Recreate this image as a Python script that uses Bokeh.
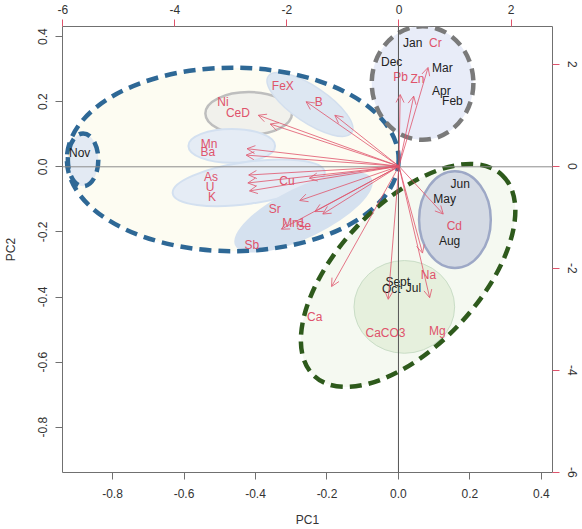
import numpy as np
from bokeh.plotting import figure
from bokeh.models import (Range1d, LinearAxis, FixedTicker, PrintfTickFormatter,
                          Span, Arrow, OpenHead, ColumnDataSource)
from bokeh.embed import file_html
from bokeh.resources import INLINE
from bokeh.core.properties import value

# ---- data: sample scores (bottom/left axes) ----
months = ["Jan", "Dec", "Mar", "Apr", "Feb", "Nov", "Jun", "May", "Aug", "Sept", "Oct", "Jul"]
month_pc1 = [0.040, -0.019, 0.123, 0.120, 0.151, -0.892, 0.173, 0.129, 0.143, -0.002, -0.020, 0.042]
month_pc2 = [0.380, 0.322, 0.303, 0.233, 0.202, 0.043, -0.052, -0.098, -0.227, -0.355, -0.374, -0.371]

# ---- data: variable loadings (top/right axes) ----
variables = ["Cr", "Pb", "Zn", "FeX", "B", "Ni", "CeD", "Mn", "Ba", "As", "U", "K",
             "Cu", "Sr", "Mn1", "Se", "Sb", "Cd", "Na", "Ca", "CaCO3", "Mg"]
var_pc1 = [0.649, 0.027, 0.329, -2.073, -1.432, -3.14, -2.874, -3.39, -3.41, -3.354, -3.372, -3.336,
           -2.00, -2.215, -1.877, -1.70, -2.625, 0.988, 0.525, -1.504, -0.240, 0.685]
var_pc2 = [2.422, 1.758, 1.719, 1.582, 1.250, 1.25, 1.035, 0.43, 0.273, -0.215, -0.41, -0.605,
           -0.293, -0.84, -1.113, -1.172, -1.543, -1.172, -2.129, -2.949, -3.262, -3.223]

score_ticks = [-0.8, -0.6, -0.4, -0.2, 0.0, 0.2, 0.4]
load_ticks = [-6, -4, -2, 0, 2]

RED = "#DF536B"
FONT = "Liberation Sans"

p = figure(width=582, height=529, output_backend="svg", toolbar_location=None,
           x_range=Range1d(-0.94, 0.431), y_range=Range1d(-0.939, 0.431),
           min_border_left=61, min_border_right=30, min_border_top=26, min_border_bottom=55,
           x_axis_label="PC1", y_axis_label="PC2")
p.extra_x_ranges = {"lx": Range1d(-6.005, 2.74)}
p.extra_y_ranges = {"ly": Range1d(-6.005, 2.74)}
p.grid.visible = False
p.outline_line_color = "#707070"
p.outline_line_width = 1
p.background_fill_color = "white"
p.border_fill_color = "white"

bottom = p.below[0]
left = p.left[0]
top = LinearAxis(x_range_name="lx")
right = LinearAxis(y_range_name="ly")
p.add_layout(top, "above")
p.add_layout(right, "right")

for ax in [bottom, left, top, right]:
    ax.axis_line_color = None
    ax.major_tick_in = 0
    ax.major_tick_out = 7
    ax.minor_tick_line_color = None
    ax.major_label_text_font = FONT
    ax.major_label_text_font_size = "12px"
    ax.major_label_text_color = "#333333"
    ax.axis_label_text_font = FONT
    ax.axis_label_text_font_size = "12px"
    ax.axis_label_text_font_style = "normal"
    ax.axis_label_text_color = "#333333"

for ax in [bottom, left]:
    ax.ticker = FixedTicker(ticks=score_ticks)
    ax.formatter = PrintfTickFormatter(format="%.1f")
    ax.major_tick_line_color = "#707070"
for ax in [top, right]:
    ax.ticker = FixedTicker(ticks=load_ticks)
    ax.formatter = PrintfTickFormatter(format="%d")
    ax.major_tick_line_color = RED

bottom.major_label_standoff = 9
bottom.axis_label_standoff = 12
left.major_label_orientation = "vertical"
left.major_label_standoff = 8
left.axis_label_standoff = 18
top.major_label_standoff = 6
right.major_label_orientation = "vertical"
right.major_label_standoff = 8

# ---- group ellipses (annotation shapes, in score coordinates) ----
fills = [
    dict(x=-0.4636, y=0.0227, w=0.9284, h=0.5636, a=0, fc="#FDFCF2", lc=None, lw=0),
    dict(x=0.027, y=-0.3338, w=0.7695, h=0.4349, a=46.9, fc="#F5F9F1", lc=None, lw=0),
    dict(x=0.0675, y=0.2573, w=0.2844, h=0.3492, a=0, fc="#E8ECF8", lc=None, lw=0),
    dict(x=-0.8824, y=0.0214, w=0.0853, h=0.1623, a=0, fc="#E3EAF3", lc=None, lw=0),
    dict(x=-0.419, y=0.1639, w=0.2425, h=0.1317, a=0, fc="#F1F1EC", lc="#BEBEBE", lw=2.5),
    dict(x=-0.2476, y=0.1914, w=0.2816, h=0.1103, a=-34, fc="#DDE7F2", lc="#D3DFEE", lw=1.5),
    dict(x=-0.4664, y=0.0643, w=0.2425, h=0.1041, a=0, fc="#E5ECF5", lc="#D3E0F0", lw=2),
    dict(x=-0.419, y=-0.049, w=0.4293, h=0.1286, a=8, fc="#E5ECF5", lc="#D3E0F0", lw=2),
    dict(x=-0.2657, y=-0.1394, w=0.4254, h=0.1556, a=26, fc="#D5E1EF", lc=None, lw=0),
    dict(x=0.158, y=-0.1623, w=0.2007, h=0.2971, a=0, fc="#D4DAE4", lc="#9DA8C6", lw=2.5),
    dict(x=0.0164, y=-0.4303, w=0.2816, h=0.2848, a=0, fc="#E6F0DD", lc="#C9DDC6", lw=1),
]
for e in fills:
    p.ellipse(x=e["x"], y=e["y"], width=e["w"], height=e["h"], angle=e["a"], angle_units="deg",
              fill_color=e["fc"], line_color=e["lc"], line_width=e["lw"])

outlines = [
    dict(x=-0.4636, y=0.0227, w=0.9284, h=0.5636, a=0, lc="#2E6896"),
    dict(x=-0.8824, y=0.0214, w=0.0853, h=0.1623, a=0, lc="#2E6896"),
    dict(x=0.0675, y=0.2573, w=0.2844, h=0.3492, a=0, lc="#7A7A7A"),
    dict(x=0.027, y=-0.3338, w=0.7695, h=0.4349, a=46.9, lc="#2E5A1C"),
]
for e in outlines:
    p.ellipse(x=e["x"], y=e["y"], width=e["w"], height=e["h"], angle=e["a"], angle_units="deg",
              fill_color=None, line_color=e["lc"], line_width=4.5, line_dash="12 7")

# zero reference lines
p.add_layout(Span(location=0, dimension="width", line_color="#8C8C8C", line_width=1))
p.add_layout(Span(location=0, dimension="height", line_color="#555555", line_width=1))

# arrows (R biplot draws arrows to 0.8 of the loading)
vx = np.array(var_pc1)
vy = np.array(var_pc2)
asrc = ColumnDataSource(dict(x0=np.zeros(len(vx)), y0=np.zeros(len(vy)), x1=0.8 * vx, y1=0.8 * vy))
p.add_layout(Arrow(end=OpenHead(size=8, line_color=RED, line_width=0.8), source=asrc,
                   x_start="x0", y_start="y0", x_end="x1", y_end="y1",
                   line_color=RED, line_width=0.8, x_range_name="lx", y_range_name="ly"))

# labels
p.text(x=var_pc1, y=var_pc2, text=variables, x_range_name="lx", y_range_name="ly",
       text_font=value(FONT), text_font_size="12px", text_color=RED,
       text_align="center", text_baseline="middle")
p.text(x=month_pc1, y=month_pc2, text=months,
       text_font=value(FONT), text_font_size="12px", text_color="#222222",
       text_align="center", text_baseline="middle")

open("out.html", "w").write(file_html(p, INLINE))
